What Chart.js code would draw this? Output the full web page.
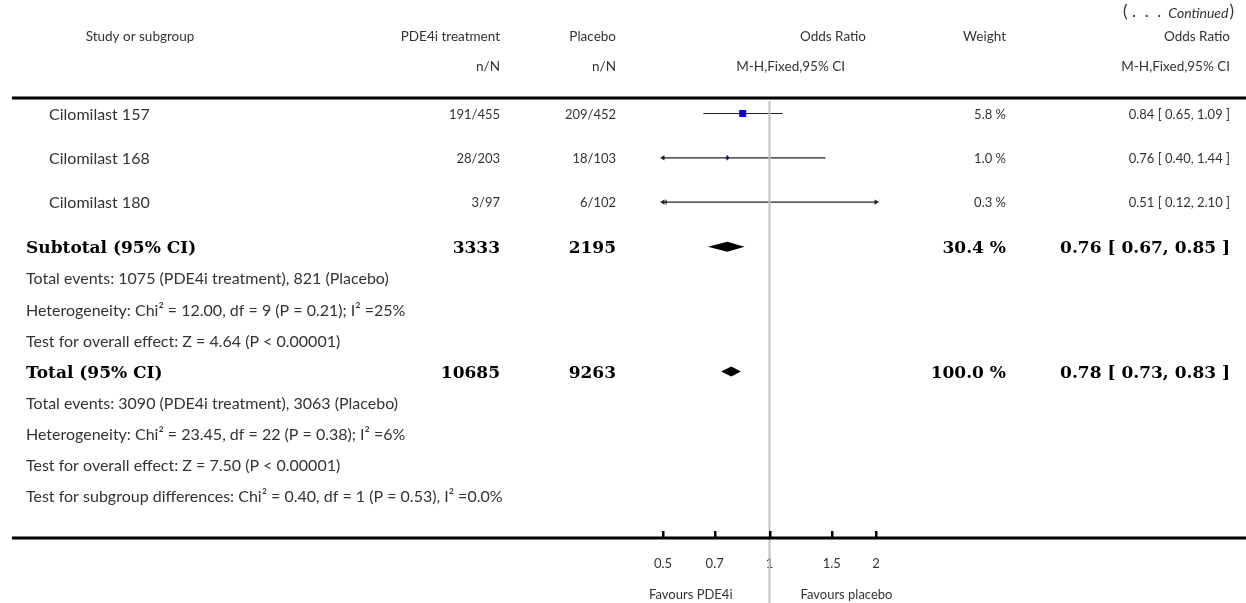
<!DOCTYPE html>
<html>
<head>
<meta charset="utf-8">
<script src="https://cdn.jsdelivr.net/npm/chart.js@4.4.0/dist/chart.umd.min.js"></script>
<style>
  html, body { margin: 0; padding: 0; background: #fff; }
  #forest { display: block; }
</style>
</head>
<body>
<canvas id="forest" width="1246" height="603"></canvas>
<script>
// studies in this subgroup
const studies = ['Cilomilast 157', 'Cilomilast 168', 'Cilomilast 180'];
const treatEvents = [191, 28, 3];
const treatTotal = [455, 203, 97];
const placEvents = [209, 18, 6];
const placTotal = [452, 103, 102];
const oddsRatio = [0.84, 0.76, 0.51];
const ciLow = [0.65, 0.40, 0.12];
const ciHigh = [1.09, 1.44, 2.10];
const weights = [5.8, 1.0, 0.3];

// pooled rows: subgroup subtotal, then overall total
const pooledLabels = ['Subtotal (95% CI)', 'Total (95% CI)'];
const pooledTreat = [3333, 10685];
const pooledPlac = [2195, 9263];
const pooledOR = [0.76, 0.78];
const pooledLow = [0.67, 0.73];
const pooledHigh = [0.85, 0.83];
const pooledWeight = [30.4, 100.0];

const subtotalNotes = [
  'Total events: 1075 (PDE4i treatment), 821 (Placebo)',
  'Heterogeneity: Chi² = 12.00, df = 9 (P = 0.21); I² =25%',
  'Test for overall effect: Z = 4.64 (P < 0.00001)'
];
const totalNotes = [
  'Total events: 3090 (PDE4i treatment), 3063 (Placebo)',
  'Heterogeneity: Chi² = 23.45, df = 22 (P = 0.38); I² =6%',
  'Test for overall effect: Z = 7.50 (P < 0.00001)',
  'Test for subgroup differences: Chi² = 0.40, df = 1 (P = 0.53), I² =0.0%'
];

const tickValues = [0.5, 0.7, 1, 1.5, 2];
const tickLabels = ['0.5', '0.7', '1', '1.5', '2'];
const axisMin = 0.5;
const axisMax = 2;

// vertical layout, in row units of the hidden y scale
const studyRows = [0.5, 1.93, 3.36];
const pooledRows = [4.8, 8.83];
const subtotalNoteRows = [5.8, 6.83, 7.83];
const totalNoteRows = [9.83, 10.83, 11.83, 12.83];

const sans = 'Lato, "Open Sans", sans-serif';
const serif = '"DejaVu Serif", "Liberation Serif", serif';
const ink = '#333';

const ciSets = studies.map((s, i) => ({
  type: 'scatter',
  data: [
    { x: Math.max(ciLow[i], axisMin), y: studyRows[i] },
    { x: Math.min(ciHigh[i], axisMax), y: studyRows[i] }
  ],
  showLine: true,
  borderColor: '#222',
  borderWidth: 1.2,
  pointStyle: 'triangle',
  pointRadius: [ciLow[i] < axisMin ? 3 : 0, ciHigh[i] > axisMax ? 3 : 0],
  pointRotation: [-90, 90],
  pointBackgroundColor: '#222',
  pointBorderColor: '#222',
  pointBorderWidth: 0,
  clip: false,
  order: 1
}));

const boxSet = {
  type: 'scatter',
  data: studies.map((s, i) => ({ x: oddsRatio[i], y: studyRows[i] })),
  pointStyle: 'rect',
  pointRadius: weights.map(w => Math.sqrt(w) * 2.06),
  backgroundColor: '#0000ee',
  borderWidth: 0,
  clip: false,
  order: 3
};

const estSet = {
  type: 'scatter',
  data: studies.map((s, i) => ({ x: oddsRatio[i], y: studyRows[i] })),
  pointStyle: 'line',
  pointRotation: 90,
  pointRadius: 2.5,
  borderColor: '#222',
  borderWidth: 1,
  clip: false,
  order: 0
};

function txt(ctx, s, x, y, align, font, color) {
  ctx.font = font;
  ctx.fillStyle = color || ink;
  ctx.textAlign = align;
  ctx.textBaseline = 'middle';
  ctx.fillText(s, x, y);
}

const forestText = {
  id: 'forestText',
  afterDatasetsDraw(chart) {
    const { ctx, scales: { x, y } } = chart;
    ctx.save();

    // pooled diamonds
    pooledOR.forEach((v, i) => {
      const yy = y.getPixelForValue(pooledRows[i]);
      ctx.beginPath();
      ctx.moveTo(x.getPixelForValue(pooledLow[i]), yy);
      ctx.lineTo(x.getPixelForValue(v), yy - 5);
      ctx.lineTo(x.getPixelForValue(pooledHigh[i]), yy);
      ctx.lineTo(x.getPixelForValue(v), yy + 5);
      ctx.closePath();
      ctx.fillStyle = '#000';
      ctx.fill();
    });

    // line of no effect
    const x1 = x.getPixelForValue(1);
    ctx.strokeStyle = '#bdbdbd';
    ctx.lineWidth = 2;
    ctx.beginPath();
    ctx.moveTo(x1, 101);
    ctx.lineTo(x1, 603);
    ctx.stroke();
    ctx.restore();
  },
  afterDraw(chart) {
    const { ctx, scales: { x, y } } = chart;
    ctx.save();
    const head = '13.5px ' + sans;
    const words = '16px ' + sans;
    const nums = '13px ' + sans;
    const bold = 'bold 17px ' + serif;

    // "(... Continued)" marker, top right
    ctx.font = '17px ' + sans;
    const closeW = ctx.measureText(')').width;
    txt(ctx, ')', 1234, 12, 'right', '17px ' + sans);
    ctx.font = 'italic 14px ' + sans;
    const contW = ctx.measureText('Continued').width;
    txt(ctx, 'Continued', 1234 - closeW - 1, 13, 'right', 'italic 14px ' + sans);
    txt(ctx, '( .  .  .', 1234 - closeW - contW - 8, 12, 'right', '17px ' + sans);

    txt(ctx, 'Study or subgroup', 140, 37, 'center', head);
    txt(ctx, 'PDE4i treatment', 500, 37, 'right', head);
    txt(ctx, 'Placebo', 616, 37, 'right', head);
    txt(ctx, 'Odds Ratio', 866, 37, 'right', head);
    txt(ctx, 'Weight', 1006, 37, 'right', head);
    txt(ctx, 'Odds Ratio', 1230, 37, 'right', head);
    txt(ctx, 'n/N', 500, 67, 'right', head);
    txt(ctx, 'n/N', 616, 67, 'right', head);
    txt(ctx, 'M-H,Fixed,95% CI', 845, 67, 'right', head);
    txt(ctx, 'M-H,Fixed,95% CI', 1230, 67, 'right', head);

    // rules across the table
    ctx.fillStyle = '#000';
    ctx.fillRect(12, 96.5, 1234, 3);
    const axisY = chart.chartArea.bottom;
    ctx.fillRect(12, axisY - 1.5, 1234, 3);
    tickValues.forEach(v => {
      ctx.fillRect(Math.round(x.getPixelForValue(v)) - 1, axisY - 7, 2.5, 7);
    });

    // study rows
    studies.forEach((s, i) => {
      const yy = y.getPixelForValue(studyRows[i]) + 1;
      txt(ctx, s, 49, yy, 'left', words);
      txt(ctx, treatEvents[i] + '/' + treatTotal[i], 500, yy, 'right', nums);
      txt(ctx, placEvents[i] + '/' + placTotal[i], 616, yy, 'right', nums);
      txt(ctx, weights[i].toFixed(1) + ' %', 1006, yy, 'right', nums);
      txt(ctx, oddsRatio[i].toFixed(2) + ' [ ' + ciLow[i].toFixed(2) + ', ' + ciHigh[i].toFixed(2) + ' ]', 1230, yy, 'right', nums);
    });

    // pooled rows
    pooledLabels.forEach((s, i) => {
      const yy = y.getPixelForValue(pooledRows[i]) + 2;
      txt(ctx, s, 26, yy, 'left', bold, '#000');
      txt(ctx, String(pooledTreat[i]), 500, yy, 'right', bold, '#000');
      txt(ctx, String(pooledPlac[i]), 616, yy, 'right', bold, '#000');
      txt(ctx, pooledWeight[i].toFixed(1) + ' %', 1006, yy, 'right', bold, '#000');
      txt(ctx, pooledOR[i].toFixed(2) + ' [ ' + pooledLow[i].toFixed(2) + ', ' + pooledHigh[i].toFixed(2) + ' ]', 1230, yy, 'right', bold, '#000');
    });

    subtotalNotes.forEach((s, i) => txt(ctx, s, 26, y.getPixelForValue(subtotalNoteRows[i]) + 1, 'left', words));
    totalNotes.forEach((s, i) => txt(ctx, s, 26, y.getPixelForValue(totalNoteRows[i]) + 1, 'left', words));

    // direction labels under the axis
    txt(ctx, 'Favours PDE4i', x.getPixelForValue(1) - 37, 595, 'right', '13px ' + sans);
    txt(ctx, 'Favours placebo', x.getPixelForValue(1) + 31, 595, 'left', '13px ' + sans);
    ctx.restore();
  }
};

new Chart(document.getElementById('forest'), {
  data: { datasets: [...ciSets, boxSet, estSet] },
  options: {
    responsive: false,
    animation: false,
    events: [],
    layout: { padding: { left: 663, right: 370, top: 98, bottom: 13.4 } },
    plugins: { legend: { display: false }, tooltip: { enabled: false } },
    scales: {
      x: {
        type: 'logarithmic',
        min: axisMin,
        max: axisMax,
        position: 'bottom',
        afterBuildTicks: s => { s.ticks = tickValues.map(v => ({ value: v })); },
        ticks: {
          callback: (v, i) => tickLabels[i],
          font: { family: sans, size: 13 },
          color: ink,
          padding: 18,
          autoSkip: false,
          maxRotation: 0
        },
        grid: { display: false, drawTicks: false },
        border: { display: false }
      },
      y: { type: 'linear', min: 0, max: 14.2, reverse: true, display: false }
    }
  },
  plugins: [forestText]
});
</script>
</body>
</html>
